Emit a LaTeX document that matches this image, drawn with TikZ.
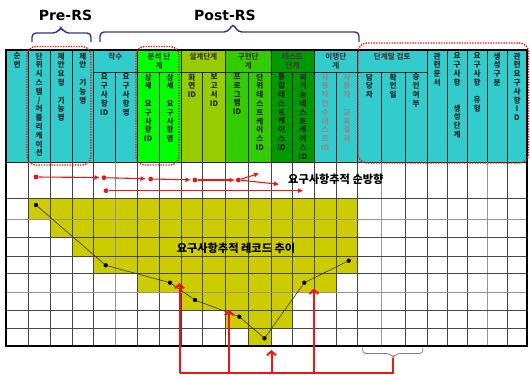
\documentclass[tikz,border=0pt]{standalone}
\usepackage{fontspec}
\setmainfont{Noto Sans CJK KR}
\newfontfamily\rsfont{DejaVu Sans}
\usetikzlibrary{arrows.meta}
\definecolor{hdteal}{RGB}{51,204,204}
\definecolor{hdlime}{RGB}{0,255,0}
\definecolor{hdyg}{RGB}{153,204,0}
\definecolor{hdgreen}{RGB}{51,204,0}
\definecolor{hddk}{RGB}{0,153,0}
\definecolor{olivef}{RGB}{204,204,0}
\definecolor{bracec}{RGB}{51,51,140}
\definecolor{gridc}{RGB}{70,70,70}
\definecolor{gridl}{RGB}{150,150,150}
\definecolor{grytxt}{RGB}{140,140,140}
\definecolor{rd}{RGB}{240,20,20}
\begin{document}
\begin{tikzpicture}[x=1pt,y=-1pt,
  hline/.style={draw=black!85,line width=0.7pt},
  grid/.style={draw=gridc,line width=0.7pt},
  lgrid/.style={draw=gridl,line width=0.7pt},
  vtext/.style={font=\fontsize{7.6}{8.8}\selectfont\bfseries,align=center,anchor=north,inner sep=0pt,text=black!85},
  gtext/.style={font=\fontsize{7.6}{8.4}\selectfont\bfseries,align=center,anchor=north,inner sep=0pt,text=black!75},
  dot/.style={circle,fill=black,inner sep=0pt,minimum size=4.4pt},
  rdot/.style={circle,fill=rd,inner sep=0pt,minimum size=4.8pt},
  rarrow/.style={draw=rd,line width=1.1pt,-{Latex[length=5.5pt,width=5pt]}},
  bline/.style={draw=rd,line width=2pt},
  barrow/.style={draw=rd,line width=2pt,-{Straight Barb[length=4pt,width=9pt,line width=2pt]}},
  redbox/.style={draw=rd,line width=1.4pt,dash pattern=on 1.4pt off 1.2pt,rounded corners=9pt},
  bracepath/.style={draw=bracec,line width=1.4pt,rounded corners=4pt},
  rslabel/.style={font=\rsfont\bfseries\fontsize{14}{16}\selectfont,inner sep=0pt},
  biglabel/.style={font=\bfseries\fontsize{11.2}{13}\selectfont,inner sep=0pt},
]
\useasboundingbox (0,0) rectangle (530,377);
% header fills
\fill[hdteal] (6,50) rectangle (137,162);
\fill[hdlime] (137,50) rectangle (181,162);
\fill[hdyg] (181,50) rectangle (225.5,162);
\fill[hdgreen] (225.5,50) rectangle (271,162);
\fill[hddk] (271,50) rectangle (314,162);
\fill[hdteal] (314,50) rectangle (527,162);
% olive staircase
\fill[olivef] (28,198) -- (357.5,198) -- (357.5,273.5) -- (336,273.5) -- (336,292) -- (292,292) -- (292,328) -- (271,328) -- (271,346) -- (248.5,346) -- (248.5,328) -- (225.5,328) -- (225.5,310) -- (181,310) -- (181,292) -- (137,292) -- (137,273.5) -- (93.5,273.5) -- (93.5,256) -- (72,256) -- (72,237.5) -- (50,237.5) -- (50,219) -- (28,219) -- cycle;
% header lines
\foreach \x in {28,50,72,93.5,137,181,225.5,271,314,357.5,427,447,467,487,507} \draw[hline] (\x,50) -- (\x,162);
\foreach \x in {115,159,202.5,248.5,292,336,381,405} \draw[hline] (\x,72) -- (\x,162);
\draw[hline] (93.5,72) -- (427,72);
\draw[hline] (6,162) -- (527,162);
% body grid
\foreach \x in {28,50,72,93.5,137,159,181,202.5,225.5,248.5,271,292,314,336,357.5,405,427,447,467,507} \draw[grid] (\x,162) -- (\x,346);
\foreach \x in {115,381,487} \draw[lgrid] (\x,162) -- (\x,346);
\foreach \y in {198,237.5,256,273.5,310,328} \draw[grid] (6,\y) -- (527,\y);
\foreach \y in {219,292} \draw[lgrid] (6,\y) -- (527,\y);
\draw[line width=1.6pt] (6,50) rectangle (527,346);
% group labels
\node[gtext] (g1) at (115.25,53) {착수};
\node[gtext] (g2) at (159,53) {분석 단\\계};
\node[gtext] (g3) at (203.25,53) {설계단계};
\node[gtext] (g4) at (248.25,53) {구현단\\계};
\node[gtext] (g5) at (292.5,53) {테스트\\단계};
\node[gtext] (g6) at (335.75,53) {이행단\\계};
\node[gtext] (g7) at (392.25,53) {단계말 검토};
% column labels
\node[vtext] (h0) at (17,52.5) {순\\번};
\node[vtext] (h1) at (39,52.5) {단\\위\\시\\스\\템\\/\\어\\플\\리\\케\\이\\션};
\node[vtext] (h2) at (61,52.5) {제\\안\\요\\청\\[8.8pt]기\\능\\명};
\node[vtext] (h3) at (82.75,52.5) {제\\안\\[8.8pt]기\\능\\명};
\node[vtext] (h4) at (104.25,73.5) {요\\구\\사\\항\\ID};
\node[vtext] (h5) at (126,73.5) {요\\구\\사\\항\\명};
\node[vtext] (h6) at (148,73.5) {상\\세\\[8.8pt]요\\구\\사\\항\\ID};
\node[vtext] (h7) at (170,73.5) {상\\세\\[8.8pt]요\\구\\사\\항\\명};
\node[vtext] (h8) at (191.75,73.5) {화\\면\\ID};
\node[vtext] (h9) at (214,73.5) {보\\고\\서\\ID};
\node[vtext] (h10) at (237,73.5) {프\\로\\그\\램\\ID};
\node[vtext] (h11) at (259.75,73.5) {단\\위\\테\\스\\트\\케\\이\\스\\ID};
\node[vtext] (h12) at (281.5,73.5) {통\\합\\테\\스\\트\\케\\이\\스\\ID};
\node[vtext] (h13) at (303,73.5) {비\\기\\능\\테\\스\\트\\케\\이\\스\\ID};
\node[vtext,text=grytxt] (h14) at (325,73.5) {사\\용\\자\\인\\수\\테\\스\\트\\ID};
\node[vtext,text=grytxt] (h15) at (346.75,73.5) {사\\용\\자\\[8.8pt]교\\육\\결\\과};
\node[vtext] (h16) at (369.25,73.5) {담\\당\\자};
\node[vtext] (h17) at (393,73.5) {확\\인\\일};
\node[vtext] (h18) at (416,73.5) {승\\인\\여\\부};
\node[vtext] (h19) at (437,52.5) {관\\련\\문\\서};
\node[vtext] (h20) at (457,52.5) {요\\구\\사\\항\\[17pt]생\\성\\단\\계};
\node[vtext] (h21) at (477,52.5) {요\\구\\사\\항\\[8.8pt]유\\형};
\node[vtext] (h22) at (497,52.5) {생\\성\\구\\분};
\node[vtext] (h23) at (517,52.5) {관\\련\\요\\구\\사\\항\\I\\D};
% top labels and braces
\node[rslabel] (pre) at (65.5,15.5) {Pre-RS};
\node[rslabel] (post) at (225,15.5) {Post-RS};
\draw[bracepath] (32,42) |- (57,33) -- (61,27) -- (65,33) -| (91,42);
\draw[bracepath] (100,42) |- (228,32) -- (233,23.5) -- (238,32) -| (359,42);
% red dotted boxes
\draw[redbox] (27,46.5) rectangle (91,165);
\draw[redbox] (136,46.5) rectangle (179,165);
\draw[redbox] (358,43) rectangle (528.5,163);
% forward trace arrows
\node[rdot] (r1) at (36,177) {};
\node[rdot] (r2) at (104,177.7) {};
\node[rdot] (r3) at (150.7,179) {};
\node[rdot] (r4) at (195,180) {};
\node[rdot] (r5) at (238.3,180) {};
\node[rdot] (r6) at (106,190.7) {};
\coordinate (e1) at (100,177.5);
\coordinate (e2) at (146,178.7);
\coordinate (e3) at (191,179.8);
\coordinate (e4) at (235,180);
\coordinate (e5) at (259.5,173.3);
\coordinate (e6) at (279.5,184.3);
\coordinate (e7) at (303.5,190.7);
\draw[rarrow] (r1) -- (e1);
\draw[rarrow] (r2) -- (e2);
\draw[rarrow] (r3) -- (e3);
\draw[rarrow] (r4) -- (e4);
\draw[rarrow] (r5) -- (e5);
\draw[rarrow] (r5) -- (e6);
\draw[rarrow] (r6) -- (e7);
\node[biglabel,anchor=west] (fwd) at (288,179) {요구사항추적 순방향};
% record trend
\node[biglabel] (trend) at (236,248) {요구사항추적 레코드 추이};
\node[dot] (p1) at (36,205) {};
\node[dot] (p2) at (105.7,265.3) {};
\node[dot] (p3) at (170,282.7) {};
\node[dot] (p4) at (195,300) {};
\node[dot] (p5) at (239.3,316.7) {};
\node[dot] (p6) at (264.5,338.3) {};
\node[dot] (p7) at (304.3,282.7) {};
\node[dot] (p8) at (348.7,260.7) {};
\draw[black!80,line width=0.6pt] (p1) -- (p2) -- (p3) -- (p4) -- (p5) -- (p6) -- (p7) -- (p8);
% bottom brace and red feedback arrows
\draw[draw=gray,line width=0.8pt,rounded corners=3pt] (362.7,347.5) |- (389.5,353.5) -- (393.3,357.5) -- (397,353.5) -| (422.7,347.5);
\coordinate (bt) at (393.3,357.5);
\coordinate (bc) at (393.3,372.7);
\coordinate (bl) at (179.5,372.7);
\coordinate (b2) at (229.3,372.7);
\coordinate (b3) at (271.5,372.7);
\coordinate (b4) at (314,372.7);
\coordinate (t1) at (179.5,283);
\coordinate (t2) at (229.3,310);
\coordinate (t3) at (271.5,350);
\coordinate (t4) at (314,288.5);
\draw[bline] (bt) -- (bc) -- (bl);
\draw[barrow] (bl) -- (t1);
\draw[barrow] (b2) -- (t2);
\draw[barrow] (b3) -- (t3);
\draw[barrow] (b4) -- (t4);
\end{tikzpicture}
\end{document}
